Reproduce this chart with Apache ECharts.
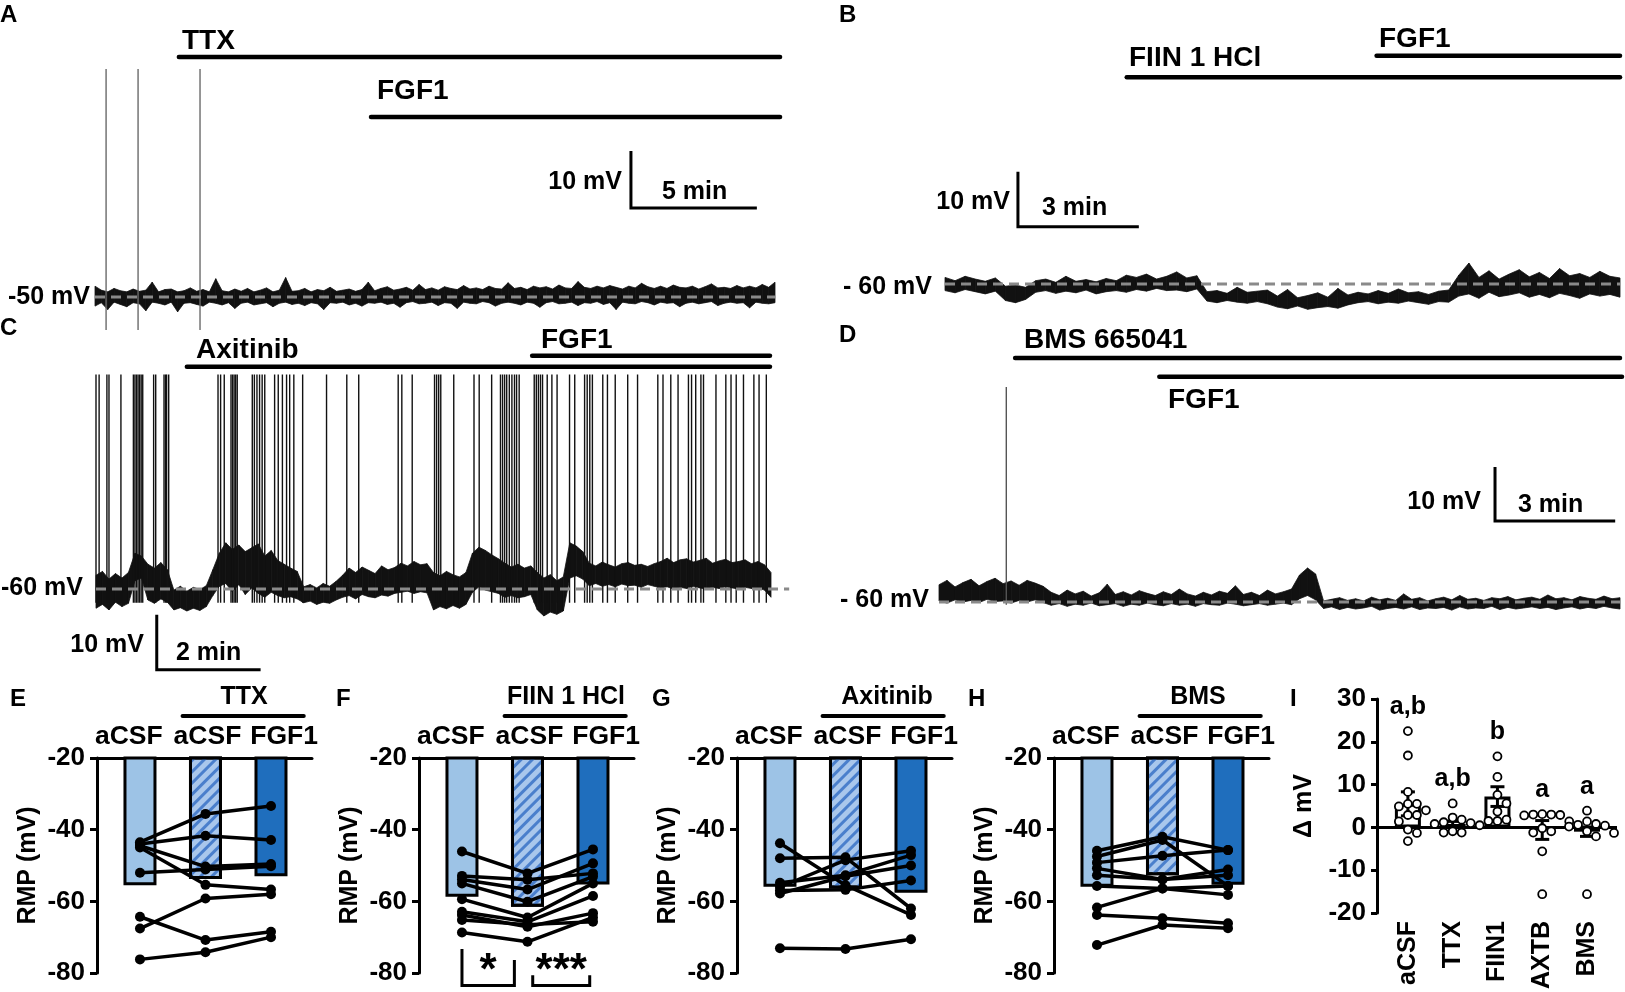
<!DOCTYPE html>
<html><head><meta charset="utf-8">
<script src="https://cdn.jsdelivr.net/npm/echarts/dist/echarts.min.js"></script>
<style>html,body{margin:0;padding:0;background:#fff}#c{width:1625px;height:992px}</style>
</head><body><div id="c"></div>
<script>
// ================= DATA =================
// --- Panel A: TTX then FGF1 (baseline -50 mV), envelope of trace (mV rel. to baseline)
const baseA = -50, durA = 27;
const traceA_hi = [1.9,1.2,0.9,1.5,1.1,0.9,1.4,1.0,1.2,2.6,0.9,1.3,
1.4,0.9,1.1,1.6,1.0,1.3,0.9,3.2,1.1,0.9,1.4,1.0,
1.5,0.9,1.2,1.6,0.9,1.2,3.4,1.0,1.1,1.5,0.9,1.3,
1.1,1.7,1.0,1.2,1.4,1.0,1.3,2.6,1.1,1.5,1.8,1.2,
1.4,1.7,1.2,2.2,1.3,1.6,1.2,1.8,1.5,1.3,2.0,1.4,
1.6,1.3,1.9,1.5,1.4,2.5,1.5,1.7,1.3,1.9,1.6,1.8,
1.4,2.1,1.6,1.5,2.7,1.7,1.5,1.9,1.6,2.0,1.7,1.4,
1.9,1.6,2.4,1.8,1.5,1.9,1.5,2.1,1.7,1.6,1.9,1.4,
1.8,2.3,1.6,1.7,1.5,2.0,1.6,1.9,1.6,2.2,1.7,2.6];
const traceA_lo = [-1.6,-1.0,-2.2,-0.9,-1.3,-1.7,-1.0,-1.2,-2.4,-0.9,-1.1,-1.4,
-0.9,-2.6,-1.1,-1.0,-1.3,-1.6,-0.9,-1.1,-1.4,-1.0,-2.0,-1.1,
-0.9,-1.4,-1.2,-1.0,-1.7,-1.1,-0.9,-1.3,-1.1,-1.5,-1.0,-1.2,
-2.2,-1.0,-1.1,-0.9,-1.4,-1.1,-1.6,-1.0,-1.1,-0.9,-1.3,-1.1,
-1.8,-1.0,-0.8,-1.2,-1.1,-0.9,-1.5,-1.0,-1.1,-2.0,-0.9,-1.1,
-1.2,-0.8,-1.0,-1.6,-1.1,-0.9,-1.1,-1.4,-0.9,-1.1,-1.8,-1.0,
-0.8,-1.2,-1.1,-0.9,-1.5,-1.0,-1.1,-0.8,-1.3,-1.0,-2.2,-0.9,
-1.1,-1.2,-0.8,-1.0,-1.4,-0.9,-1.1,-1.0,-1.7,-1.1,-0.9,-1.2,
-1.0,-0.8,-1.5,-1.1,-0.9,-1.1,-1.0,-1.9,-0.9,-1.1,-1.2,-1.0];
const spikesA_t = [0.44, 1.71, 4.17];
const spikesA_range = [-55.8, -10];
const drugsA = [{name:'TTX', on:3.33, off:27.2}, {name:'FGF1', on:10.96, off:27.2}];

// --- Panel B: FIIN 1 HCl then FGF1 (baseline -60 mV)
const baseB = -60, durB = 16.75;
const traceB_hi = [1.2,0.6,1.4,0.9,0.5,1.1, -0.4,-0.2,-0.6,
0.6,0.9,0.3,1.4,0.5,0.8,0.4,1.0,0.6,1.6,
1.2,1.8,0.9,1.4,2.2,1.1,1.5,
-1.4,-1.2,-1.7,-0.6,-1.5,-1.3,-1.1,
-2.2,-1.0,-2.5,-2.1,-1.6,-2.4,-0.8,-2.0,
-1.5,-1.8,-1.2,-1.7,-0.9,-1.6,-1.4,-1.9,-1.3,-1.1,
1.6,3.8,1.2,2.4,0.9,1.8,2.6,1.3,2.1,1.0,2.8,1.5,1.9,1.2,2.3,1.4,1.1];
const traceB_lo = [-1.2,-1.6,-1.0,-1.4,-1.8,-1.3, -3.0,-3.4,-2.8,
-1.5,-1.2,-1.7,-1.3,-1.6,-1.1,-1.8,-1.4,-1.2,-1.5,
-1.0,-1.3,-0.8,-1.2,-1.1,-1.4,-0.9,
-3.1,-3.4,-3.0,-3.3,-3.5,-3.2,-3.6,
-4.2,-4.5,-4.0,-4.6,-4.3,-4.1,-4.4,-3.8,
-3.4,-3.2,-3.6,-3.3,-3.5,-3.1,-3.4,-3.7,-3.2,-3.3,
-2.2,-1.8,-2.6,-1.5,-2.3,-2.0,-1.6,-2.4,-1.9,-2.5,-1.7,-2.1,-2.6,-1.8,-2.2,-1.9,-2.4];
const drugsB = [{name:'FIIN 1 HCl', on:4.51, off:16.75}, {name:'FGF1', on:10.71, off:16.75}];

// --- Panel C: Axitinib then FGF1 (baseline -60 mV)
const baseC = -60, durC = 13;
const traceC_hi = [2.5,3.2,1.8,2.8,2.0,3.0, 6.5,6.0, 4.5,3.8,4.8,3.5,
-0.2,0.5,-0.4,0.3,-0.1,0.6,
3.5,6.5,8.4,7.2,8.0,6.8,7.5,8.2,6.0,7.0,5.2,4.5,3.8,3.2,
0.4,0.8,0.2,1.0,0.5,1.4,
2.5,3.8,3.0,4.0,3.4,2.8,4.2,3.5,3.9,
4.7,4.2,5.0,4.4,4.6,
3.0,2.4,3.2,2.6,2.2,3.0,
6.5,7.6,7.0,6.2,5.5,
4.7,4.0,4.5,3.8,4.2,
3.0,2.0,2.6,1.5,2.2,
8.4,7.8,6.8,
4.7,4.2,4.9,4.4,4.0,4.6,4.8,4.3,4.5,4.1,4.6,
5.0,5.6,4.8,5.3,5.5,4.9,5.2,5.6,4.7,5.1,5.4,4.8,5.0,5.3,4.6,5.0,4.4,3.0];
const traceC_lo = [-3.5,-2.8,-3.8,-2.4,-3.2,-2.6, 1.5,2.0, -2.0,-2.6,-1.8,-2.4,
-3.8,-3.4,-4.0,-3.5,-3.9,-3.2,
-1.2,0.5,1.0,-0.5,0.8,-1.0,0.2,-0.8,-1.5,-0.6,-1.2,-1.6,-1.4,-1.8,
-2.5,-2.2,-2.8,-2.4,-2.6,-2.0,
-1.5,-1.2,-1.8,-1.0,-1.4,-1.6,-1.1,-1.3,-0.8,
-0.6,-0.4,-0.8,-0.5,-0.7,
-3.8,-3.2,-3.6,-3.0,-3.5,-2.8,
-0.6,0.4,-0.2,-0.5,-0.8,
-1.5,-1.2,-1.6,-1.4,-1.0,
-3.8,-4.9,-4.2,-4.6,-4.0,
2.0,2.4,1.8,
0.6,1.0,0.5,0.8,0.4,0.9,0.6,0.7,0.3,0.8,0.5,
0.2,0.4,0.0,0.3,0.1,0.5,0.2,0.0,0.3,0.1,0.4,0.2,0.0,0.3,0.1,0.2,-0.2,-1.5];
const spikesC_t = [0.00,0.06,0.21,0.25,0.48,0.72,0.75,0.78,0.81,0.84,0.87,0.90,1.11,1.15,1.31,1.34,1.36,1.40,
2.35,2.40,2.47,2.60,2.63,2.66,2.69,2.72,3.01,3.05,3.10,3.15,3.20,3.25,3.44,3.51,3.59,3.67,3.73,3.81,3.98,
4.44,4.83,5.06,5.82,5.89,6.09,6.52,6.56,6.60,6.64,6.89,7.28,7.38,7.62,7.79,7.83,7.87,7.91,7.96,8.01,8.06,8.10,8.15,
8.44,8.48,8.52,8.56,8.60,8.69,8.78,8.88,9.12,9.22,9.41,9.46,9.51,9.56,9.76,9.85,10.00,10.24,10.43,
10.82,10.92,11.07,11.21,11.41,11.47,11.55,11.65,11.70,11.94,12.13,12.23,12.33,12.47,12.67,12.77,12.91];
const spikesC_range = [-62.5, -21];
const drugsC = [{name:'Axitinib', on:1.75, off:12.98}, {name:'FGF1', on:8.4, off:12.98}];

// --- Panel D: BMS 665041 then FGF1 (baseline -60 mV)
const baseD = -60, durD = 17;
const traceD_hi = [3.2,4.0,2.8,3.6,4.2,3.0,3.8,4.4,3.4,3.9,3.1,4.0,3.5,2.9,
1.8,1.2,2.2,1.5,2.0,1.1,1.7,3.3,1.4,1.9,1.3,2.1,1.6,1.2,1.9,1.4,2.4,1.5,1.1,1.8,1.3,2.0,1.6,3.0,1.4,1.8,1.2,2.2,1.5,1.9,2.4,
5.0,6.3,5.2,
0.2,0.5,0.8,0.3,0.6,0.2,0.9,0.4,0.7,0.3,1.5,0.5,0.8,0.2,0.6,0.9,0.4,1.2,0.5,0.7,0.3,0.8,0.6,1.0,0.4,0.7,0.9,0.5,1.3,0.6,0.8,0.4,1.0,0.7,0.5,1.1,0.6,0.8];
const traceD_lo = [0.2,-0.2,0.4,0.0,0.3,-0.1,0.5,0.1,0.2,-0.2,0.3,0.0,0.4,-0.1,
-0.6,-0.3,-0.8,-0.4,-0.6,-0.2,-0.7,-0.5,-0.3,-0.8,-0.4,-0.6,-0.2,-0.5,-0.7,-0.3,-0.6,-0.4,-0.8,-0.3,-0.5,-0.6,-0.2,-0.4,-0.7,-0.5,-0.3,-0.6,-0.4,-0.2,-0.5,
0.6,1.2,0.4,
-1.2,-0.9,-1.4,-1.0,-1.3,-1.1,-0.8,-1.5,-1.2,-1.0,-1.3,-0.9,-1.4,-1.1,-1.2,-1.0,-1.5,-0.9,-1.3,-1.1,-1.2,-0.8,-1.4,-1.0,-1.3,-1.1,-0.9,-1.2,-1.0,-1.4,-1.1,-0.9,-1.3,-1.0,-1.2,-0.8,-1.1,-1.3];
const spikesD_t = [1.68];
const spikesD_range = [-60.5, -20.2];
const drugsD = [{name:'BMS 665041', on:1.9, off:17.0}, {name:'FGF1', on:5.5, off:17.05}];

// --- Panels E-H: resting membrane potential (mV)
const rmpCats = ['aCSF', 'aCSF', 'FGF1'];
const barsE = [-55.5, -53.8, -53.0];
const cellsE = [[-43.5,-35.6,-33.4],[-44,-41.7,-42.9],[-44.5,-50.3,-49.6],[-45,-55.4,-56.7],[-52,-51.1,-50.2],[-64.3,-70.8,-68.5],[-67.6,-59.2,-58],[-76.2,-74.2,-70]];
const barsF = [-58.7, -61.5, -55.3];
const cellsF = [[-46.1,-52.2,-45.5],[-52.9,-54,-52.2],[-53.9,-56.7,-49.4],[-55,-60.1,-53.1],[-59.4,-64.5,-55],[-62.9,-65.7,-58.5],[-63.8,-67.1,-63.3],[-65.2,-66.5,-65.7],[-68.7,-71.3,-64.5]];
const barsG = [-55.9, -56.4, -57.6];
const cellsG = [[-43.8,-55.5,-63.8],[-48,-47.7,-62],[-54.8,-52.7,-47.1],[-56,-48.5,-45.9],[-57,-56.8,-54.2],[-57.8,-53,-50],[-73.1,-73.3,-70.6]];
const barsH = [-55.9, -52.7, -55.4];
const cellsH = [[-45.9,-42,-45.7],[-47.5,-42.9,-55.7],[-49.2,-47.3,-45.7],[-50.8,-53.9,-52.7],[-52.7,-53.9,-51.1],[-55.7,-56.4,-58.2],[-61.7,-56.4,-55.7],[-63.8,-64.7,-66.1],[-72.2,-66.6,-67.5]];
const rmpTicks = {min:-80, max:-20, step:20};
const sigF = [{from:0, to:0.8, label:'*'}, {from:1.08, to:1.95, label:'***'}];

// --- Panel I: change in membrane potential (mV)
const dCats = ['aCSF', 'TTX', 'FIIN1', 'AXTB', 'BMS'];
const dMeans = [5.5, 0.8, 7.2, -0.6, -1.0];
const dSems = [2.8, 0.6, 2.3, 2.2, 1.1];
const dPoints = [
  [22.5, 16.8, 8.3, 5.5, 5.5, 4.9, 4.0, 2.9, 2.9, 1.4, -0.5, -1.3, -3.2],
  [5.6, 2.3, 1.8, 1.2, 1.0, 0.8, 0.5, -0.9, -1.2, -1.2],
  [16.6, 11.8, 7.6, 5.6, 3.7, 1.8, 1.5, 1.5],
  [3.1, 3.0, 3.0, 2.9, 2.8, 1.4, -0.2, -0.9, -1.2, -5.6, -15.6],
  [3.9, 1.4, 0.8, 0.6, 0.4, 0.2, -0.9, -1.3, -2.1, -15.6]
];
const dLetters = ['a,b', 'a,b', 'b', 'a', 'a'];
const dTicks = {min:-20, max:30, step:10};

// ================= BUILD =================
const FONT = "'Liberation Sans', Arial, Helvetica, sans-serif";
const grids = [], xAxes = [], yAxes = [], series = [], graphics = [];

function T(x, y, text, size, align) {
  graphics.push({type:'text', x:x, y:y, silent:true,
    style:{text:text, fill:'#000', font:'bold ' + size + 'px ' + FONT, textAlign:align || 'left', textVerticalAlign:'middle'}});
}
function segs(gi, list, style, z) {
  series.push({type:'lines', coordinateSystem:'cartesian2d', xAxisIndex:gi, yAxisIndex:gi, polyline:true,
    silent:true, clip:false, animation:false, z:z || 5,
    data:list.map(c => ({coords:c})), lineStyle:Object.assign({opacity:1, color:'#000'}, style)});
}
function nearest(arr, v) {
  let best = 0;
  arr.forEach((a, i) => { if (Math.abs(a - v) < Math.abs(arr[best] - v)) best = i; });
  return best;
}

function tracePanel(L, base, dur, hi, lo, spikes, spikeRange, spikeColor, drugs, drugLevels, scale, dashEnd) {
  const gi = grids.length;
  grids.push({left:L.x0, width:L.x1 - L.x0, top:L.yBase - (L.vmax - base) * L.k, height:(L.vmax - L.vmin) * L.k,
    containLabel:false, outerBoundsMode:'none'});
  xAxes.push({type:'value', gridIndex:gi, min:0, max:dur, show:false});
  yAxes.push({type:'value', gridIndex:gi, min:L.vmin, max:L.vmax, show:false});
  const n = hi.length, dt = dur / (n - 1);
  const band = [];
  for (let i = 0; i < n - 1; i++) band.push([i * dt, base + lo[i], base + hi[i], (i + 1) * dt, base + lo[i + 1], base + hi[i + 1]]);
  series.push({type:'custom', xAxisIndex:gi, yAxisIndex:gi, silent:true, animation:false, z:2,
    encode:{x:[0, 3], y:[1, 2, 4, 5]}, data:band,
    renderItem:function (params, api) {
      const pts = [api.coord([api.value(0), api.value(2)]), api.coord([api.value(3), api.value(5)]),
                   api.coord([api.value(3), api.value(4)]), api.coord([api.value(0), api.value(1)])];
      return {type:'polygon', shape:{points:pts}, style:{fill:'#111', stroke:'#111', lineWidth:0.8}};
    }});
  if (spikes.length) segs(gi, spikes.map(t => [[t, spikeRange[0]], [t, spikeRange[1]]]), {color:spikeColor, width:1.4}, 3);
  segs(gi, [[[0, base], [dashEnd, base]]], {color:'#8a8a8a', width:3, type:[10, 6]}, 4);
  segs(gi, drugs.map((d, i) => [[d.on, drugLevels[i]], [d.off, drugLevels[i]]]), {width:4.5, cap:'round'}, 5);
  segs(gi, [[[scale.t, scale.v + 10], [scale.t, scale.v], [scale.t + scale.min, scale.v]]], {width:3}, 5);
  return gi;
}

// Panel A
tracePanel({x0:95, x1:775, yBase:297, k:5.7, vmin:-62, vmax:0}, baseA, durA, traceA_hi, traceA_lo,
  spikesA_t, spikesA_range, '#6a6a6a', drugsA, [-7.9, -18.4], {t:21.28, v:-34.4, min:5}, durA);
T(0, 15, 'A', 24); T(182, 41, 'TTX', 28); T(377, 91, 'FGF1', 28);
T(622, 182, '10 mV', 25, 'right'); T(662, 192, '5 min', 25); T(90, 297, '-50 mV', 25, 'right');

// Panel B
tracePanel({x0:945, x1:1620, yBase:284, k:5.5, vmin:-70, vmax:-10}, baseB, durB, traceB_hi, traceB_lo,
  [], [0, 0], '#000', drugsB, [-22.4, -18.5], {t:1.81, v:-49.6, min:3}, durB);
T(839, 15, 'B', 24); T(1129, 58, 'FIIN 1 HCl', 28); T(1379, 39, 'FGF1', 28);
T(1010, 202, '10 mV', 25, 'right'); T(1042, 208, '3 min', 25); T(932, 287, '- 60 mV', 25, 'right');

// Panel C
tracePanel({x0:96, x1:771, yBase:589, k:5.5, vmin:-80, vmax:-15}, baseC, durC, traceC_hi, traceC_lo,
  spikesC_t, spikesC_range, '#111', drugsC, [-19.6, -17.6], {t:1.17, v:-74.7, min:2}, 13.35);
T(0, 328, 'C', 24); T(196, 350, 'Axitinib', 28); T(541, 340, 'FGF1', 28);
T(144, 645, '10 mV', 25, 'right'); T(176, 653, '2 min', 25); T(83, 588, '-60 mV', 25, 'right');

// Panel D
tracePanel({x0:939, x1:1620, yBase:602, k:5.4, vmin:-70, vmax:-12}, baseD, durD, traceD_hi, traceD_lo,
  spikesD_t, spikesD_range, '#555', drugsD, [-14.8, -18.3], {t:13.88, v:-45, min:3}, durD);
T(839, 335, 'D', 24); T(1024, 340, 'BMS 665041', 28); T(1168, 400, 'FGF1', 28);
T(1481, 502, '10 mV', 25, 'right'); T(1518, 505, '3 min', 25); T(929, 600, '- 60 mV', 25, 'right');

// Panels E-H
const BAR_FILL = ['#9dc3e6', '#a9c7ec', '#1f6ebd'];
const HATCH = {symbol:'rect', symbolSize:1, dashArrayX:[1, 0], dashArrayY:[3, 5], rotation:-Math.PI / 4, color:'#4a7fcc'};
const axisTxt = {color:'#000', fontWeight:'bold', fontFamily:FONT};
const CAT_POS = [-0.17, 1.03, 2.2];

function rmpPanel(left, letter, drug, drugCx, bars, cells, sig) {
  const gi = grids.length;
  grids.push({left:left, top:758, width:215, height:215, containLabel:false, outerBoundsMode:'none'});
  xAxes.push({type:'value', gridIndex:gi, min:-0.656, max:2.626, position:'top',
    axisLine:{show:true, onZero:false, lineStyle:{color:'#000', width:3}},
    axisTick:{show:false}, splitLine:{show:false},
    axisLabel:Object.assign({show:true, customValues:CAT_POS, formatter:v => rmpCats[nearest(CAT_POS, v)], fontSize:26.5, margin:8}, axisTxt)});
  yAxes.push({type:'value', gridIndex:gi, min:rmpTicks.min, max:rmpTicks.max, interval:rmpTicks.step,
    name:'RMP (mV)', nameLocation:'middle', nameRotate:90, nameGap:56, nameMoveOverlap:false,
    nameTextStyle:Object.assign({fontSize:25}, axisTxt),
    axisLine:{show:true, onZero:false, lineStyle:{color:'#000', width:3}},
    axisTick:{show:true, length:7, lineStyle:{color:'#000', width:3}},
    splitLine:{show:false},
    axisLabel:Object.assign({fontSize:26, margin:12}, axisTxt)});
  series.push({type:'bar', xAxisIndex:gi, yAxisIndex:gi, barWidth:33, clip:true, silent:true, animation:false, z:2,
    data:bars.map((v, i) => ({value:[i, v], itemStyle:i === 1 ? {color:BAR_FILL[1], decal:HATCH} : {color:BAR_FILL[i]}})),
    itemStyle:{borderColor:'#000', borderWidth:3}});
  segs(gi, cells.map(c => c.map((v, i) => [i, v])), {width:3.5, join:'round'}, 6);
  const pts = [];
  cells.forEach(c => c.forEach((v, i) => pts.push([i, v])));
  series.push({type:'scatter', xAxisIndex:gi, yAxisIndex:gi, symbolSize:10, silent:true, animation:false, z:7,
    itemStyle:{color:'#000', opacity:1}, data:pts});
  segs(gi, [[[0.65, -8.3], [2.5, -8.3]]], {width:4, cap:'round'}, 5);
  if (sig) {
    segs(gi, sig.map((s, k) => k === 0
      ? [[s.from, -73.3], [s.from, -83.5], [s.to, -83.5], [s.to, -76.4]]
      : [[s.from, -80.6], [s.from, -83.5], [s.to, -83.5], [s.to, -80.6]]), {width:3}, 5);
    series.push({type:'scatter', xAxisIndex:gi, yAxisIndex:gi, symbolSize:1, silent:true, animation:false, clip:false, z:8,
      itemStyle:{color:'rgba(0,0,0,0)', opacity:1},
      data:sig.map(s => [(s.from + s.to) / 2, -79.8]),
      label:{show:true, position:'inside', formatter:p => sig[p.dataIndex].label, fontSize:44, fontWeight:'bold', fontFamily:FONT, color:'#000', textBorderWidth:0}});
  }
  T(letter[1], 699, letter[0], 24);
  T(drugCx, 697, drug, 25, 'center');
}
rmpPanel(97, ['E', 10], 'TTX', 244, barsE, cellsE, null);
rmpPanel(419, ['F', 336], 'FIIN 1 HCl', 566, barsF, cellsF, sigF);
rmpPanel(737, ['G', 652], 'Axitinib', 887, barsG, cellsG, null);
rmpPanel(1054, ['H', 968], 'BMS', 1198, barsH, cellsH, null);

// Panel I
(function () {
  const gi = grids.length;
  const KX = 44.75, KY = 214 / 50, D = 9;
  grids.push({left:1377, top:699, width:240, height:214, containLabel:false, outerBoundsMode:'none'});
  xAxes.push({type:'value', gridIndex:gi, min:-0.69, max:4.67, position:'bottom',
    axisLine:{show:false, onZero:false}, axisTick:{show:false}, splitLine:{show:false},
    axisLabel:Object.assign({show:true, customValues:[0, 1, 2, 3, 4], formatter:v => dCats[Math.round(v)], rotate:90, fontSize:25, margin:8}, axisTxt)});
  yAxes.push({type:'value', gridIndex:gi, min:dTicks.min, max:dTicks.max, interval:dTicks.step,
    name:'\u0394 mV', nameLocation:'middle', nameRotate:90, nameGap:60, nameMoveOverlap:false,
    nameTextStyle:Object.assign({fontSize:25}, axisTxt),
    axisLine:{show:true, onZero:false, lineStyle:{color:'#000', width:3}},
    axisTick:{show:true, length:6, lineStyle:{color:'#000', width:3}},
    splitLine:{show:false},
    axisLabel:Object.assign({fontSize:26, margin:11}, axisTxt)});
  series.push({type:'bar', xAxisIndex:gi, yAxisIndex:gi, barWidth:26, silent:true, animation:false, z:2,
    data:dMeans.map((m, i) => [i, m]), itemStyle:{color:'#fff', borderColor:'#000', borderWidth:3},
    markLine:{symbol:['none', 'none'], silent:true, animation:false, label:{show:false},
      lineStyle:{color:'#000', width:3, type:'solid'}, data:[{yAxis:0}]}});
  series.push({type:'custom', xAxisIndex:gi, yAxisIndex:gi, silent:true, animation:false, z:4,
    data:dMeans.map((m, i) => [i, m - dSems[i], m + dSems[i]]),
    renderItem:function (params, api) {
      const x = api.value(0), a = api.coord([x, api.value(1)]), b = api.coord([x, api.value(2)]), w = 7;
      const st = {stroke:'#000', lineWidth:3};
      return {type:'group', children:[
        {type:'line', shape:{x1:a[0], y1:a[1], x2:b[0], y2:b[1]}, style:st},
        {type:'line', shape:{x1:b[0] - w, y1:b[1], x2:b[0] + w, y2:b[1]}, style:st},
        {type:'line', shape:{x1:a[0] - w, y1:a[1], x2:a[0] + w, y2:a[1]}, style:st}]};
    }});
  // simple deterministic beeswarm layout for the open circles
  const pts = [];
  dPoints.forEach((vals, g) => {
    const placed = [];
    vals.map((v, i) => i).sort((p, q) => vals[q] - vals[p]).forEach(i => {
      const py = vals[i] * KY;
      for (let s = 0; s < 30; s++) {
        const dx = s === 0 ? 0 : (s % 2 ? 1 : -1) * Math.ceil(s / 2) * D;
        if (placed.every(p => Math.hypot(p[0] - dx, p[1] - py) >= D)) { placed.push([dx, py]); pts.push([g + dx / KX, vals[i]]); break; }
      }
    });
  });
  series.push({type:'scatter', xAxisIndex:gi, yAxisIndex:gi, symbolSize:8, silent:true, animation:false, z:6,
    itemStyle:{color:'#fff', borderColor:'#000', borderWidth:1.8, opacity:1}, data:pts});
  series.push({type:'scatter', xAxisIndex:gi, yAxisIndex:gi, symbolSize:1, silent:true, animation:false, z:7, clip:false,
    itemStyle:{color:'rgba(0,0,0,0)', opacity:1}, data:dPoints.map((vals, g) => [g, Math.max.apply(null, vals)]),
    label:{show:true, position:'top', distance:11, formatter:p => dLetters[p.dataIndex], fontSize:25, fontWeight:'bold', fontFamily:FONT, color:'#000'}});
  T(1290, 699, 'I', 24);
})();

const chart = echarts.init(document.getElementById('c'), null, {renderer:'canvas'});
chart.setOption({
  animation:false, backgroundColor:'#fff',
  textStyle:{fontFamily:FONT},
  grid:grids, xAxis:xAxes, yAxis:yAxes, series:series, graphic:graphics
});
</script></body></html>
